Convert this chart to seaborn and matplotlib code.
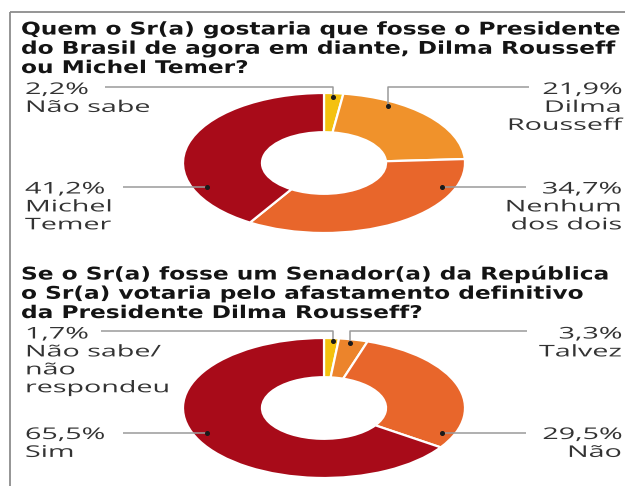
import matplotlib
matplotlib.use("Agg")
import matplotlib.pyplot as plt
import seaborn as sns
from matplotlib.patheffects import AbstractPathEffect
from matplotlib.transforms import Affine2D

# ---------------- data ----------------
q1_title = ("Quem o Sr(a) gostaria que fosse o Presidente\n"
            "do Brasil de agora em diante, Dilma Rousseff\n"
            "ou Michel Temer?")
q1_categories = ["Não sabe", "Dilma\nRousseff", "Nenhum\ndos dois", "Michel\nTemer"]
q1_values = [2.2, 21.9, 34.7, 41.2]
q1_colors = ["#F4C10F", "#F0922B", "#E8662B", "#A80B19"]

q2_title = ("Se o Sr(a) fosse um Senador(a) da República\n"
            "o Sr(a) votaria pelo afastamento definitivo\n"
            "da Presidente Dilma Rousseff?")
q2_categories = ["Não sabe/\nnão\nrespondeu", "Talvez", "Não", "Sim"]
q2_values = [1.7, 3.3, 29.5, 65.5]
q2_colors = ["#F4C10F", "#EC842B", "#E8662B", "#A80B19"]

# ---------------- layout (pixels, origin top-left) ----------------
W, H = 627, 486
sns.set_theme(style="white")
plt.rcParams["font.family"] = ["DejaVu Sans"]

fig = plt.figure(figsize=(W / 100, H / 100), dpi=100)
fig.patch.set_facecolor("white")


class HStretch(AbstractPathEffect):
    """Horizontal stretch of text glyphs about the text anchor."""
    def __init__(self, sx):
        super().__init__()
        self.sx = sx
        self.text = None

    def draw_path(self, renderer, gc, tpath, affine, rgbFace=None):
        x0, _ = self.text.get_transform().transform(self.text.get_position())
        aff = affine + Affine2D().translate(-x0, 0).scale(self.sx, 1).translate(x0, 0)
        renderer.draw_path(gc, tpath, aff, rgbFace)


def donut(cy, values, colors):
    cx, rx, ry = 324, 141, 70
    ax = fig.add_axes([(cx - rx) / W, 1 - (cy + ry) / H, 2 * rx / W, 2 * ry / H])
    ax.pie(values, colors=colors, startangle=90, counterclock=False, radius=1,
           wedgeprops=dict(width=0.56, edgecolor="white", linewidth=1.6))
    ax.set_xlim(-1, 1)
    ax.set_ylim(-1, 1)
    ax.set_aspect("auto")
    ax.axis("off")
    return ax


donut(163, q1_values, q1_colors)
donut(408, q2_values, q2_colors)

ov = fig.add_axes([0, 0, 1, 1], zorder=5)
ov.set_xlim(0, W)
ov.set_ylim(H, 0)
ov.axis("off")
ov.patch.set_alpha(0)

# frame
border = "#8c8c8c"
ov.plot([10, 625], [12, 12], color=border, lw=1.3, solid_capstyle="butt")
ov.plot([10, 10], [12, H], color=border, lw=1.3, solid_capstyle="butt")


def stext(x, y, s, sx, **kw):
    pe = HStretch(sx)
    t = ov.text(x, y, s, **kw)
    pe.text = t
    t.set_path_effects([pe])
    return t


# titles
for ty, title in [(20.5, q1_title), (265, q2_title)]:
    stext(21, ty, title, 1.33, ha="left", va="top", fontsize=12.6,
          fontweight="bold", color="#141414", linespacing=1.09,
          family=["DejaVu Sans"])


def pct(v):
    return f"{v:.1f}".replace(".", ",") + "%"


# label layouts: side, top y of text block, leader path (last point = dot)
q1_layout = [
    ("left", 82, [(105, 87), (333, 87), (333, 97)]),
    ("right", 82, [(529, 87), (388, 87), (388, 106)]),
    ("right", 181.5, [(526, 187), (442, 187)]),
    ("left", 181.5, [(123, 187), (207, 187)]),
]
q2_layout = [
    ("left", 326.5, [(101, 331), (333, 331), (333, 341)]),
    ("right", 326.5, [(527, 331), (350, 331), (350, 343)]),
    ("right", 427, [(526, 433), (442, 433)]),
    ("left", 427, [(123, 433), (207, 433)]),
]

for cats, vals, layout in [(q1_categories, q1_values, q1_layout),
                           (q2_categories, q2_values, q2_layout)]:
    for cat, v, (side, ty, path) in zip(cats, vals, layout):
        xs = [p[0] for p in path]
        ys = [p[1] for p in path]
        ov.plot(xs, ys, color="#9a9a9a", lw=1.1, solid_capstyle="butt", zorder=4)
        ov.plot(xs[-1], ys[-1], "o", color="#1a1a1a", ms=2.6, zorder=6)
        x = 25 if side == "left" else 622
        stext(x, ty, pct(v) + "\n" + cat, 1.78, ha=side, va="top",
              fontsize=11.6, color="#333333", linespacing=1.16,
              multialignment=side, family=["Open Sans", "DejaVu Sans"])

fig.savefig("out.png", dpi=100, facecolor="white")
